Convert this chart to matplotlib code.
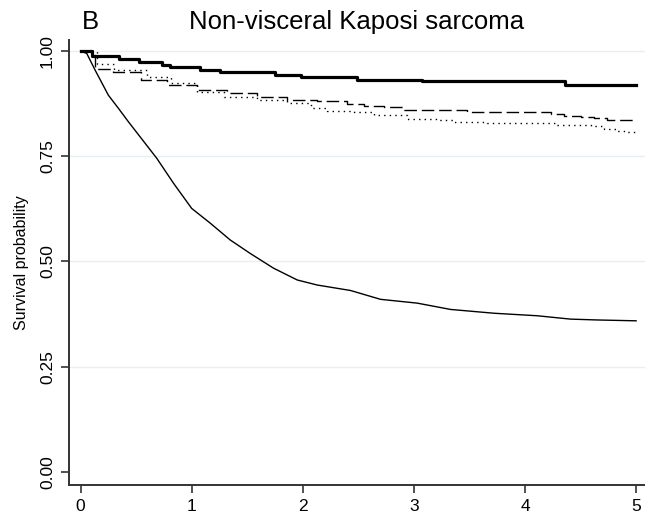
"""
Kaplan-Meier survival curves: non-visceral Kaposi sarcoma (panel B)
"""

import matplotlib
matplotlib.use('Agg')
import matplotlib.pyplot as plt

plt.rcParams['font.family'] = ['Liberation Sans', 'DejaVu Sans']

# 粗实线（阶梯）
thick_t = [0, 0.10, 0.345, 0.525, 0.73, 0.806, 1.077, 1.257, 1.75, 1.98, 2.49, 3.07, 4.36, 5.0]
thick_s = [1.0, 0.989, 0.981, 0.974, 0.966, 0.961, 0.954, 0.949, 0.942, 0.937, 0.932, 0.928, 0.919, 0.919]

# 虚线
dash_t = [0, 0.13, 0.29, 0.54, 0.78, 1.05, 1.32, 1.59, 1.86, 2.13, 2.40, 2.55, 2.73, 2.91,
          3.48, 4.23, 4.35, 4.50, 4.62, 4.74, 5.0]
dash_s = [1.0, 0.958, 0.949, 0.931, 0.919, 0.907, 0.900, 0.890, 0.884, 0.880, 0.873, 0.870,
          0.866, 0.860, 0.854, 0.850, 0.846, 0.843, 0.840, 0.837, 0.837]

# 点线
dot_t = [0, 0.146, 0.30, 0.60, 0.81, 1.05, 1.29, 1.59, 1.86, 2.07, 2.22, 2.46, 2.64, 2.94,
         3.21, 3.36, 3.66, 4.14, 4.29, 4.59, 4.71, 4.83, 4.91, 5.0]
dot_s = [1.0, 0.969, 0.954, 0.938, 0.923, 0.903, 0.891, 0.884, 0.876, 0.864, 0.858, 0.855,
         0.847, 0.839, 0.837, 0.831, 0.828, 0.828, 0.825, 0.821, 0.815, 0.811, 0.808, 0.806]

# 细实线
thin_t = [0, 0.056, 0.13, 0.25, 0.34, 0.43, 0.536, 0.686, 0.836, 1.00, 1.167, 1.347, 1.527, 1.737,
          1.95, 2.13, 2.43, 2.70, 3.03, 3.33, 3.72, 4.11, 4.41, 4.65, 5.0]
thin_s = [1.0, 0.994, 0.955, 0.895, 0.864, 0.832, 0.796, 0.745, 0.686, 0.626, 0.591, 0.551, 0.519,
          0.484, 0.456, 0.444, 0.431, 0.410, 0.401, 0.386, 0.377, 0.371, 0.363, 0.361, 0.359]

y_ticks = [0.0, 0.25, 0.50, 0.75, 1.00]
y_labels = ['0.00', '0.25', '0.50', '0.75', '1.00']
x_ticks = [0, 1, 2, 3, 4, 5]


def main():
    fig = plt.figure(figsize=(6.45, 5.19), dpi=100)
    ax = fig.add_axes([69 / 645, 34 / 519, 1 - 69 / 645, (485 - 40) / 519])

    # 网格线（不画0.00）
    for y in y_ticks[1:]:
        ax.axhline(y, color='#e6eff1', linewidth=1.0, zorder=0)

    ax.step(thick_t, thick_s, where='post', color='black', linewidth=2.3)
    ax.step(dash_t, dash_s, where='post', color='black', linewidth=1.0,
            linestyle=(0, (9, 3.5)))
    ax.step(dot_t, dot_s, where='post', color='black', linewidth=1.0,
            linestyle=(0, (1, 3)))
    ax.plot(thin_t, thin_s, color='black', linewidth=1.0)

    ax.set_xlim(-0.104, 5.08)
    ax.set_ylim(-0.031, 1.026)

    ax.set_xticks(x_ticks)
    ax.set_yticks(y_ticks)
    ax.set_yticklabels(y_labels, rotation=90, va='center')
    ax.tick_params(axis='both', length=6, width=1.2, color='#333333',
                   labelsize=12.5, pad=4)

    for side in ['top', 'right']:
        ax.spines[side].set_visible(False)
    for side in ['left', 'bottom']:
        ax.spines[side].set_color('#333333')
        ax.spines[side].set_linewidth(1.4)

    ax.set_ylabel('Survival probability', fontsize=11.5, labelpad=8)

    fig.text(90 / 645, 1 - 22 / 519, 'B', fontsize=18.5, ha='center', va='center')
    fig.text(357 / 645, 1 - 22 / 519, 'Non-visceral Kaposi sarcoma', fontsize=18.5,
             ha='center', va='center')

    fig.savefig('out.png', dpi=100)
    plt.close(fig)


if __name__ == '__main__':
    main()
